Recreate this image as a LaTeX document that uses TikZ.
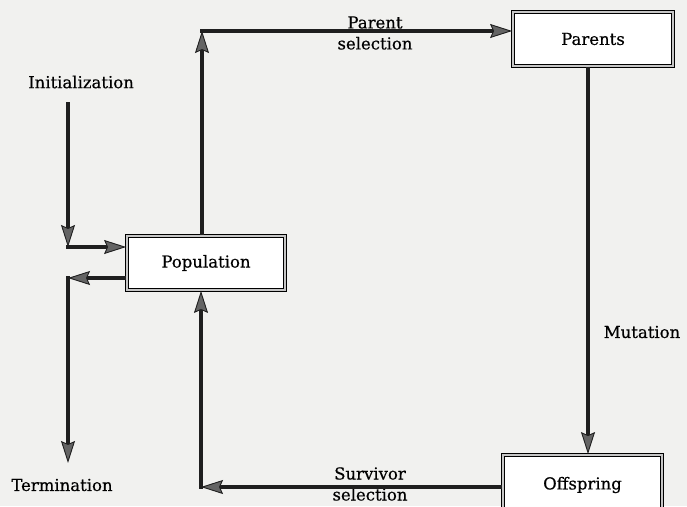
\documentclass[tikz,border=0pt]{standalone}
\usepackage{fontspec}
\setmainfont[FakeBold=0.5]{DejaVu Serif}
\usetikzlibrary{arrows.meta}
\definecolor{paper}{RGB}{241,241,239}
\definecolor{tipgray}{RGB}{100,100,100}
\tikzset{
  stage/.style={draw=black, double=gray!45, double distance=1.2pt, line width=1.8pt,
    fill=white, inner sep=0pt, font=\fontsize{16.5}{21}\selectfont},
  lbl/.style={font=\fontsize{16.5}{21}\selectfont, align=center, inner sep=0pt},
  flow/.style={draw=black!88, line width=3.2pt,
    -{Stealth[length=22pt, width=14pt, inset=3pt, fill=tipgray, line width=0.9pt]}}
}
\begin{document}
\begin{tikzpicture}[x=1pt, y=-1pt]
  \useasboundingbox (0,0) rectangle (687,506);
  \clip (0,0) rectangle (687,506);
  \fill[paper] (0,0) rectangle (687,506);

  % stages of the evolutionary loop
  \node[stage, minimum width=158pt, minimum height=54pt] (pop) at (206,263) {Population};
  \node[stage, minimum width=160pt, minimum height=54pt] (par) at (593,39) {Parents};
  \node[stage, minimum width=159pt, minimum height=60pt] (off) at (582.5,485) {Offspring};

  % free-standing labels
  \node[lbl] (init) at (81,82) {Initialization};
  \node[lbl] (term) at (62,485) {Termination};
  \node[lbl] (psel) at (375,33) {Parent\\selection};
  \node[lbl] (mut) at (642,332) {Mutation};
  \node[lbl] (ssel) at (370,484) {Survivor\\selection};

  % corner and end points of the connectors
  \coordinate (is) at (68,102);
  \coordinate (ic) at (68,247);
  \coordinate (pc) at (202,31);
  \coordinate (sc) at (201,487);
  \coordinate (tc) at (68,278);
  \coordinate (te) at (68,463);

  % initialization feeds the population
  \draw[flow] (is) -- (ic);
  \draw[flow, shorten <=-1.6pt] (ic) -- (pop.west |- ic);

  % parent selection
  \draw[flow] (pop.north -| pc) -- (pc);
  \draw[flow, shorten <=-1.6pt] (pc) -- (par.west |- pc);

  % mutation
  \draw[flow] (par.south -| 588,0) -- (off.north -| 588,0);

  % survivor selection
  \draw[flow] (off.west |- sc) -- (sc);
  \draw[flow, shorten <=-1.6pt] (sc) -- (pop.south -| sc);

  % termination
  \draw[flow] (pop.west |- tc) -- (tc);
  \draw[flow, shorten <=-1.6pt] (tc) -- (te);
\end{tikzpicture}
\end{document}
